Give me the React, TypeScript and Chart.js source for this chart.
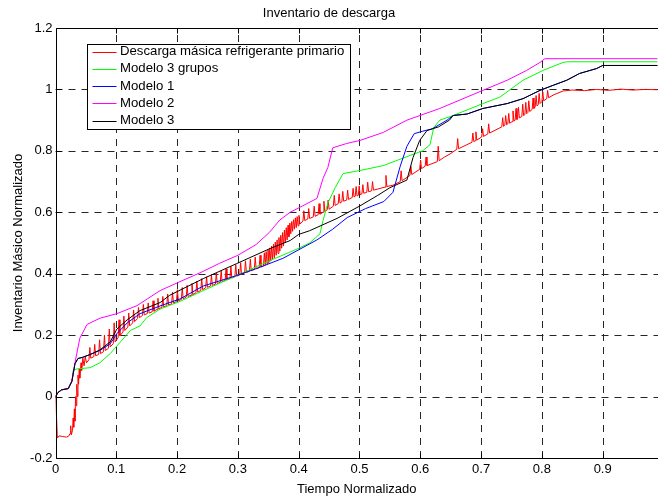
import { useEffect, useRef } from "react";
import { Chart, registerables } from "chart.js";

Chart.register(...registerables);

const chartTitle = "Inventario de descarga";
const xAxisTitle = "Tiempo Normalizado";
const yAxisTitle = "Inventario Másico Normalizado";

const seriesNames = [
  "Descarga másica refrigerante primario",
  "Modelo 3 grupos",
  "Modelo 1",
  "Modelo 2",
  "Modelo 3",
];
const seriesColors = ["#ff0000", "#00ff00", "#0000ff", "#ff00ff", "#000000"];

const xTicks = [0, 0.1, 0.2, 0.3, 0.4, 0.5, 0.6, 0.7, 0.8, 0.9];
const yTicks = [-0.2, 0, 0.2, 0.4, 0.6, 0.8, 1, 1.2];

// [tiempo, inventario]
const descarga: [number, number][] = [
  [0, 0], [0.002, -0.08], [0.003, -0.135], [0.006, -0.128], [0.012, -0.13], [0.018, -0.132],
  [0.022, -0.128], [0.024, -0.12], [0.025, -0.095], [0.026, -0.125], [0.028, -0.11], [0.029, -0.07],
  [0.03, -0.1], [0.031, -0.04], [0.032, -0.08], [0.033, 0.0], [0.034, -0.03], [0.035, 0.04],
  [0.036, 0.0], [0.037, 0.07], [0.038, 0.04], [0.039, 0.09], [0.04, 0.06], [0.042, 0.11],
  [0.043, 0.085], [0.045, 0.125], [0.047, 0.1], [0.049, 0.13], [0.051, 0.11],
  [0.055, 0.12], [0.0565, 0.16], [0.058, 0.125],
  [0.063, 0.13], [0.0645, 0.17], [0.066, 0.133],
  [0.071, 0.137], [0.0725, 0.185], [0.074, 0.14],
  [0.079, 0.146], [0.0805, 0.2], [0.082, 0.15],
  [0.087, 0.157], [0.0885, 0.22], [0.09, 0.162],
  [0.095, 0.172], [0.0965, 0.24], [0.098, 0.178],
  [0.103, 0.192], [0.1045, 0.25], [0.106, 0.198],
  [0.111, 0.21], [0.1125, 0.262], [0.114, 0.215],
  [0.119, 0.226], [0.1205, 0.272], [0.122, 0.23],
  [0.127, 0.24], [0.1285, 0.282], [0.13, 0.244],
  [0.135, 0.254], [0.1365, 0.29], [0.138, 0.257],
  [0.143, 0.264], [0.1445, 0.3], [0.146, 0.266],
  [0.151, 0.27], [0.1525, 0.305], [0.154, 0.272],
  [0.159, 0.276], [0.1605, 0.312], [0.162, 0.278],
  [0.167, 0.284], [0.1685, 0.32], [0.17, 0.286],
  [0.175, 0.29], [0.1765, 0.326], [0.178, 0.292],
  [0.183, 0.296], [0.1845, 0.334], [0.186, 0.298],
  [0.191, 0.302], [0.1925, 0.34], [0.194, 0.304],
  [0.199, 0.31], [0.2005, 0.348], [0.202, 0.312],
  [0.207, 0.316], [0.2085, 0.355], [0.21, 0.318],
  [0.215, 0.324], [0.2165, 0.362], [0.218, 0.326],
  [0.223, 0.33], [0.2245, 0.368], [0.226, 0.332],
  [0.231, 0.338], [0.2325, 0.376], [0.234, 0.34],
  [0.239, 0.346], [0.2405, 0.384], [0.242, 0.348],
  [0.247, 0.354], [0.2485, 0.39], [0.25, 0.356],
  [0.255, 0.36], [0.2565, 0.396], [0.258, 0.362],
  [0.263, 0.366], [0.2645, 0.402], [0.266, 0.368],
  [0.271, 0.372], [0.2725, 0.41], [0.274, 0.374],
  [0.279, 0.378], [0.2805, 0.416], [0.282, 0.38],
  [0.287, 0.384], [0.2885, 0.424], [0.29, 0.386],
  [0.295, 0.39], [0.2965, 0.43], [0.298, 0.392],
  [0.303, 0.396], [0.3045, 0.436], [0.306, 0.398],
  [0.311, 0.402], [0.3125, 0.442], [0.314, 0.404],
  [0.319, 0.408], [0.3205, 0.448], [0.322, 0.41],
  [0.327, 0.414], [0.3285, 0.454], [0.33, 0.416],
  [0.335, 0.42], [0.3365, 0.46], [0.338, 0.422],
  [0.342, 0.425], [0.3435, 0.468], [0.345, 0.428], [0.3465, 0.472], [0.348, 0.432], [0.3495, 0.478],
  [0.351, 0.436], [0.3525, 0.484], [0.354, 0.441], [0.3555, 0.49], [0.357, 0.446], [0.3585, 0.496],
  [0.36, 0.452], [0.3615, 0.503], [0.363, 0.46], [0.3645, 0.51], [0.366, 0.466], [0.3675, 0.518],
  [0.369, 0.474], [0.3705, 0.525], [0.372, 0.483], [0.3735, 0.534], [0.375, 0.49], [0.3765, 0.542],
  [0.378, 0.5], [0.3795, 0.55], [0.381, 0.51], [0.3825, 0.558], [0.384, 0.52], [0.3855, 0.565],
  [0.387, 0.53], [0.3885, 0.57], [0.39, 0.538], [0.3915, 0.576], [0.393, 0.545], [0.3945, 0.582],
  [0.396, 0.55], [0.3975, 0.586], [0.399, 0.556], [0.4005, 0.59], [0.402, 0.562],
  [0.407, 0.571], [0.4085, 0.605], [0.41, 0.573],
  [0.415, 0.578], [0.4165, 0.612], [0.418, 0.58],
  [0.424, 0.585], [0.4255, 0.62], [0.427, 0.587],
  [0.432, 0.592], [0.4335, 0.628], [0.435, 0.594],
  [0.44, 0.6], [0.4415, 0.636], [0.443, 0.603],
  [0.447, 0.608], [0.4485, 0.64], [0.45, 0.61],
  [0.457, 0.62], [0.4585, 0.655], [0.46, 0.622],
  [0.465, 0.628], [0.4665, 0.66], [0.468, 0.63],
  [0.471, 0.634], [0.4725, 0.668], [0.474, 0.636],
  [0.479, 0.64], [0.4805, 0.672], [0.482, 0.642],
  [0.488, 0.648], [0.4895, 0.678], [0.491, 0.65],
  [0.493, 0.652], [0.4945, 0.684], [0.496, 0.653],
  [0.498, 0.655], [0.4995, 0.686], [0.501, 0.657],
  [0.504, 0.66], [0.5055, 0.69], [0.507, 0.662],
  [0.512, 0.665], [0.5135, 0.698], [0.515, 0.667],
  [0.52, 0.67], [0.5215, 0.7], [0.523, 0.672],
  [0.542, 0.682], [0.5435, 0.72], [0.545, 0.684],
  [0.555, 0.688],
  [0.567, 0.7], [0.5685, 0.735], [0.57, 0.703],
  [0.583, 0.72], [0.5845, 0.75], [0.586, 0.723],
  [0.599, 0.74], [0.6005, 0.77], [0.602, 0.742],
  [0.608, 0.75], [0.6095, 0.78], [0.611, 0.752],
  [0.628, 0.765], [0.6295, 0.815], [0.631, 0.768],
  [0.64, 0.78], [0.649, 0.79],
  [0.66, 0.805], [0.6615, 0.84], [0.663, 0.807],
  [0.685, 0.828], [0.6865, 0.858], [0.688, 0.83],
  [0.69, 0.833], [0.6915, 0.862], [0.693, 0.835],
  [0.701, 0.845], [0.7025, 0.872], [0.704, 0.847],
  [0.711, 0.855], [0.7125, 0.888], [0.714, 0.858],
  [0.734, 0.878], [0.7355, 0.908], [0.737, 0.88],
  [0.739, 0.883], [0.7405, 0.915], [0.742, 0.885],
  [0.744, 0.888], [0.7455, 0.922], [0.747, 0.89],
  [0.751, 0.895], [0.7525, 0.93], [0.754, 0.897],
  [0.756, 0.9], [0.7575, 0.938], [0.759, 0.902],
  [0.76, 0.905], [0.7615, 0.942], [0.763, 0.907],
  [0.767, 0.912], [0.7685, 0.952], [0.77, 0.915],
  [0.772, 0.918], [0.7735, 0.958], [0.775, 0.921],
  [0.777, 0.925], [0.7785, 0.963], [0.78, 0.928],
  [0.784, 0.935], [0.7855, 0.972], [0.787, 0.938],
  [0.789, 0.943], [0.7905, 0.98], [0.792, 0.946],
  [0.794, 0.95], [0.7955, 0.987], [0.797, 0.954],
  [0.8, 0.96], [0.8015, 0.992], [0.803, 0.963],
  [0.808, 0.97], [0.8095, 0.997], [0.811, 0.973],
  [0.82, 0.983], [0.835, 0.995], [0.85, 0.998], [0.87, 0.996], [0.89, 1.0], [0.91, 0.997],
  [0.93, 1.001], [0.95, 0.998], [0.97, 1.0], [0.99, 0.999],
];

const modelo3Grupos: [number, number][] = [
  [0, 0], [0.004, 0.013], [0.01, 0.022], [0.021, 0.026], [0.027, 0.05], [0.029, 0.085],
  [0.035, 0.09], [0.057, 0.094], [0.073, 0.11], [0.09, 0.14], [0.106, 0.176], [0.123, 0.215],
  [0.139, 0.23], [0.15, 0.257], [0.172, 0.285], [0.205, 0.31], [0.243, 0.345], [0.298, 0.394],
  [0.353, 0.443], [0.397, 0.48], [0.418, 0.5], [0.435, 0.53], [0.44, 0.573], [0.448, 0.63],
  [0.46, 0.68], [0.473, 0.726], [0.501, 0.736], [0.539, 0.752], [0.562, 0.769], [0.583, 0.785],
  [0.604, 0.8], [0.616, 0.82], [0.622, 0.875], [0.632, 0.9], [0.654, 0.915], [0.703, 0.954],
  [0.731, 0.975], [0.769, 1.03], [0.802, 1.062], [0.835, 1.088], [0.841, 1.09], [0.99, 1.09],
];

const modelo1: [number, number][] = [
  [0, 0], [0.004, 0.013], [0.01, 0.022], [0.021, 0.026], [0.027, 0.05], [0.032, 0.107],
  [0.037, 0.124], [0.045, 0.128], [0.057, 0.137], [0.073, 0.15], [0.09, 0.172], [0.101, 0.205],
  [0.118, 0.24], [0.139, 0.27], [0.172, 0.295], [0.205, 0.318], [0.243, 0.36], [0.298, 0.394],
  [0.331, 0.417], [0.374, 0.45], [0.402, 0.48], [0.43, 0.51], [0.456, 0.545], [0.48, 0.583],
  [0.51, 0.612], [0.54, 0.635], [0.555, 0.665], [0.567, 0.75], [0.578, 0.815], [0.59, 0.856],
  [0.604, 0.864], [0.62, 0.872], [0.644, 0.9], [0.654, 0.915], [0.677, 0.92], [0.703, 0.938],
  [0.743, 0.954], [0.769, 0.97], [0.797, 0.997], [0.818, 1.013], [0.841, 1.03], [0.862, 1.052],
  [0.89, 1.068], [0.9, 1.078], [0.99, 1.078],
];

const modelo2: [number, number][] = [
  [0, 0], [0.004, 0.013], [0.01, 0.022], [0.021, 0.026], [0.027, 0.05], [0.032, 0.11],
  [0.04, 0.19], [0.052, 0.235], [0.073, 0.255], [0.101, 0.27], [0.134, 0.296], [0.172, 0.345],
  [0.2, 0.37], [0.24, 0.405], [0.27, 0.434], [0.3, 0.46], [0.33, 0.495], [0.352, 0.535],
  [0.369, 0.575], [0.386, 0.6], [0.43, 0.645], [0.44, 0.71], [0.448, 0.746], [0.456, 0.81],
  [0.479, 0.824], [0.501, 0.834], [0.539, 0.86], [0.578, 0.9], [0.632, 0.938], [0.703, 0.997],
  [0.743, 1.03], [0.775, 1.062], [0.797, 1.088], [0.805, 1.1], [0.99, 1.1],
];

const modelo3: [number, number][] = [
  [0, 0], [0.004, 0.013], [0.01, 0.022], [0.021, 0.026], [0.027, 0.05], [0.032, 0.107],
  [0.037, 0.124], [0.045, 0.128], [0.057, 0.137], [0.073, 0.152], [0.09, 0.178], [0.101, 0.22],
  [0.118, 0.25], [0.139, 0.28], [0.172, 0.306], [0.188, 0.33], [0.243, 0.384], [0.298, 0.433],
  [0.353, 0.482], [0.386, 0.508], [0.4, 0.528], [0.418, 0.54], [0.463, 0.58], [0.5, 0.62],
  [0.53, 0.655], [0.55, 0.68], [0.578, 0.705], [0.588, 0.778], [0.599, 0.834], [0.611, 0.866],
  [0.63, 0.878], [0.648, 0.9], [0.654, 0.915], [0.677, 0.92], [0.703, 0.938], [0.743, 0.954],
  [0.769, 0.97], [0.797, 0.997], [0.818, 1.013], [0.841, 1.03], [0.862, 1.052], [0.89, 1.068],
  [0.9, 1.078], [0.99, 1.078],
];

const allSeries = [descarga, modelo3Grupos, modelo1, modelo2, modelo3];

const FONT = "'Liberation Sans', Arial, Helvetica, sans-serif";

const fmt = (v: number) => String(Number(v.toFixed(1)));

const matlabAxesPlugin = {
  id: "matlabAxes",
  beforeDatasetsDraw(chart: any) {
    const { ctx, chartArea, scales } = chart;
    const { left, right, top, bottom } = chartArea;
    ctx.save();
    ctx.strokeStyle = "#262626";
    ctx.lineWidth = 1;
    ctx.setLineDash([7, 6]);
    xTicks.forEach((v) => {
      if (v === 0) return;
      const px = Math.round(scales.x.getPixelForValue(v)) + 0.5;
      ctx.beginPath();
      ctx.moveTo(px, bottom);
      ctx.lineTo(px, top);
      ctx.stroke();
    });
    yTicks.forEach((v) => {
      if (v === -0.2 || v === 1.2) return;
      const py = Math.round(scales.y.getPixelForValue(v)) + 0.5;
      ctx.beginPath();
      ctx.moveTo(left, py);
      ctx.lineTo(right, py);
      ctx.stroke();
    });
    ctx.restore();
  },
  afterDatasetsDraw(chart: any) {
    const { ctx, chartArea, scales } = chart;
    const { left, right, top, bottom } = chartArea;
    const l = Math.round(left) + 0.5;
    const t = Math.round(top) + 0.5;
    const b = Math.round(bottom) + 0.5;
    ctx.save();
    ctx.strokeStyle = "#000";
    ctx.lineWidth = 1;
    ctx.setLineDash([]);
    ctx.beginPath();
    ctx.moveTo(right + 2, t);
    ctx.lineTo(l, t);
    ctx.lineTo(l, b);
    ctx.lineTo(right + 2, b);
    ctx.stroke();
    const tl = 5;
    xTicks.forEach((v) => {
      const px = Math.round(scales.x.getPixelForValue(v)) + 0.5;
      ctx.beginPath();
      ctx.moveTo(px, b);
      ctx.lineTo(px, b - tl);
      ctx.moveTo(px, t);
      ctx.lineTo(px, t + tl);
      ctx.stroke();
    });
    yTicks.forEach((v) => {
      const py = Math.round(scales.y.getPixelForValue(v)) + 0.5;
      ctx.beginPath();
      ctx.moveTo(l, py);
      ctx.lineTo(l + tl, py);
      ctx.stroke();
    });
    ctx.restore();
  },
  afterDraw(chart: any) {
    const { ctx, chartArea } = chart;
    const bx = Math.round(chartArea.left + 31) + 0.5;
    const by = Math.round(chartArea.top + 16) + 0.5;
    const bw = 263;
    const bh = 85;
    ctx.save();
    ctx.fillStyle = "#fff";
    ctx.fillRect(bx, by, bw, bh);
    ctx.strokeStyle = "#000";
    ctx.lineWidth = 1;
    ctx.strokeRect(bx, by, bw, bh);
    ctx.font = `13.2px ${FONT}`;
    ctx.textBaseline = "middle";
    ctx.textAlign = "left";
    seriesNames.forEach((name, i) => {
      const cy = by + 7 + i * 17.3;
      ctx.strokeStyle = seriesColors[i];
      ctx.beginPath();
      ctx.moveTo(bx + 5, Math.round(cy) + 0.5);
      ctx.lineTo(bx + 29, Math.round(cy) + 0.5);
      ctx.stroke();
      ctx.fillStyle = "#000";
      ctx.fillText(name, bx + 32.5, cy);
    });
    ctx.restore();
  },
};

export default function App() {
  const ref = useRef<HTMLCanvasElement | null>(null);
  useEffect(() => {
    if (!ref.current) return;
    const chart = new Chart(ref.current, {
      type: "line",
      data: {
        datasets: allSeries.map((s, i) => ({
          label: seriesNames[i],
          data: s.map(([x, y]) => ({ x, y })),
          borderColor: seriesColors[i],
          backgroundColor: seriesColors[i],
          borderWidth: 1,
          pointRadius: 0,
          tension: 0,
          fill: false,
          order: allSeries.length - i,
        })),
      },
      options: {
        responsive: false,
        animation: false,
        devicePixelRatio: 1,
        layout: { padding: 0 },
        events: [],
        plugins: {
          legend: { display: false },
          tooltip: { enabled: false },
          title: {
            display: true,
            text: chartTitle,
            color: "#000",
            font: { family: FONT, size: 13, weight: "normal" },
            padding: { top: 6, bottom: 6.4 },
          },
        },
        scales: {
          x: {
            type: "linear",
            min: 0,
            max: 0.991,
            afterBuildTicks: (s: any) => {
              s.ticks = xTicks.map((value) => ({ value }));
            },
            afterFit: (s: any) => {
              s.height = 39;
            },
            ticks: {
              autoSkip: false,
              maxRotation: 0,
              padding: 4,
              color: "#000",
              font: { family: FONT, size: 13 },
              callback: (v: any) => fmt(Number(v)),
            },
            grid: { display: false, drawTicks: false },
            border: { display: false },
            title: {
              display: true,
              text: xAxisTitle,
              color: "#000",
              font: { family: FONT, size: 13 },
              padding: { top: 0, bottom: 0 },
            },
          },
          y: {
            type: "linear",
            min: -0.2,
            max: 1.2,
            afterBuildTicks: (s: any) => {
              s.ticks = yTicks.map((value) => ({ value }));
            },
            afterFit: (s: any) => {
              s.width = 55.5;
            },
            ticks: {
              autoSkip: false,
              padding: 3,
              color: "#000",
              font: { family: FONT, size: 13 },
              callback: (v: any) => fmt(Number(v)),
            },
            grid: { display: false, drawTicks: false },
            border: { display: false },
            title: {
              display: true,
              text: yAxisTitle,
              color: "#000",
              font: { family: FONT, size: 13 },
              padding: { top: 11, bottom: 0 },
            },
          },
        },
      },
      plugins: [matlabAxesPlugin],
    });
    return () => chart.destroy();
  }, []);
  return (
    <div style={{ position: "fixed", left: 0, top: 0, width: 658, height: 497, background: "#fff" }}>
      <canvas ref={ref} width={658} height={497} style={{ display: "block" }} />
    </div>
  );
}
